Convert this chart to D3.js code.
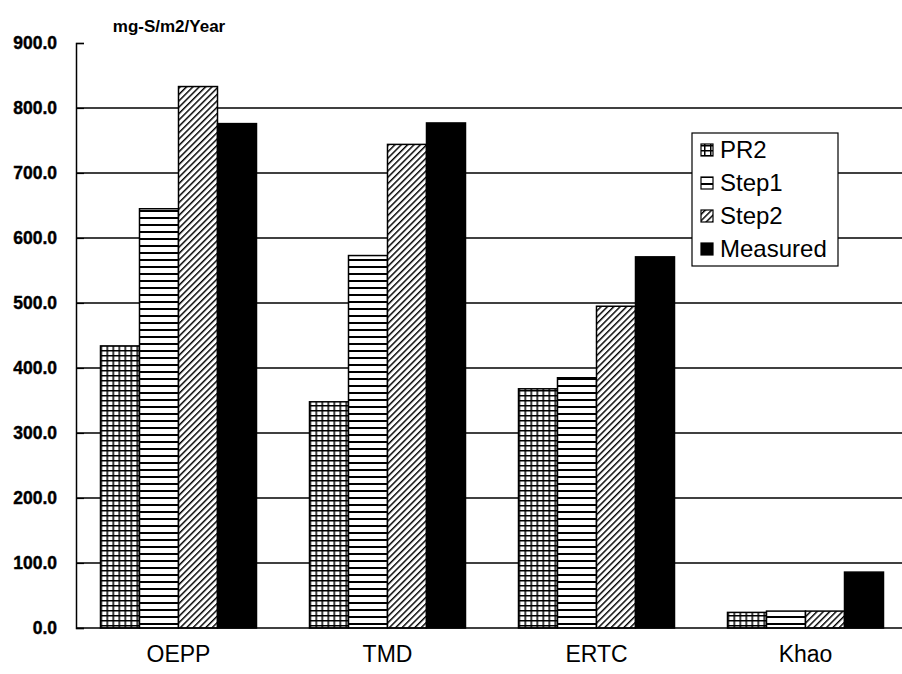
<!DOCTYPE html>
<html>
<head>
<meta charset="utf-8">
<script src="https://cdn.jsdelivr.net/npm/d3@7"></script>
<style>
  html, body { margin: 0; padding: 0; background: #fff; }
  svg { display: block; }
</style>
</head>
<body>
<svg id="chart" width="902" height="674"></svg>
<script>
// Sulfur deposition by site: three model runs against measurement
const categories = ["OEPP", "TMD", "ERTC", "Khao"];
const seriesNames = ["PR2", "Step1", "Step2", "Measured"];
const pr2      = [434, 348, 368, 24];
const step1    = [645, 573, 385, 26];
const step2    = [833, 744, 495, 26];
const measured = [776, 777, 571, 86];
const yTicks = [0, 100, 200, 300, 400, 500, 600, 700, 800, 900];
const unitLabel = "mg-S/m2/Year";

const seriesValues = [pr2, step1, step2, measured];

const svg = d3.select("#chart");
const width = 902, height = 674;
const plotTop = 43, plotBottom = 628, plotLeft = 76;

// Fill patterns for each series
const defs = svg.append("defs");

const pGrid = defs.append("pattern").attr("id", "pat-PR2")
  .attr("patternUnits", "userSpaceOnUse").attr("width", 6).attr("height", 5);
pGrid.append("rect").attr("width", 6).attr("height", 5).attr("fill", "#fff");
pGrid.append("line").attr("x1", 0.75).attr("y1", 0).attr("x2", 0.75).attr("y2", 5)
  .attr("stroke", "#000").attr("stroke-width", 1.5);
pGrid.append("line").attr("x1", 0).attr("y1", 0.75).attr("x2", 6).attr("y2", 0.75)
  .attr("stroke", "#000").attr("stroke-width", 1.5);

const pHoriz = defs.append("pattern").attr("id", "pat-Step1")
  .attr("patternUnits", "userSpaceOnUse").attr("width", 8).attr("height", 7);
pHoriz.append("rect").attr("width", 8).attr("height", 7).attr("fill", "#fff");
pHoriz.append("line").attr("x1", 0).attr("y1", 1).attr("x2", 8).attr("y2", 1)
  .attr("stroke", "#000").attr("stroke-width", 2);

const pDiag = defs.append("pattern").attr("id", "pat-Step2")
  .attr("patternUnits", "userSpaceOnUse").attr("width", 4.5).attr("height", 4.5)
  .attr("patternTransform", "rotate(45)");
pDiag.append("rect").attr("width", 4.5).attr("height", 4.5).attr("fill", "#fff");
pDiag.append("line").attr("x1", 0.7).attr("y1", 0).attr("x2", 0.7).attr("y2", 4.5)
  .attr("stroke", "#000").attr("stroke-width", 1.5);

const fillFor = name => name === "Measured" ? "#000" : `url(#pat-${name})`;

// Scales
const y = d3.scaleLinear().domain([0, 900]).range([plotBottom, plotTop]);
const x0 = d3.scaleBand().domain(categories).range([74, 910])
  .paddingInner(0.2536).paddingOuter(0.1268);
const x1 = d3.scaleBand().domain(seriesNames).range([0, x0.bandwidth()]);

// Gridlines
svg.append("g").selectAll("line")
  .data(yTicks.filter(t => t > 0 && t < 900))
  .join("line")
  .attr("x1", plotLeft).attr("x2", width)
  .attr("y1", d => y(d)).attr("y2", d => y(d))
  .attr("stroke", "#000").attr("stroke-width", 1.3);

// Bars
const groups = svg.append("g").selectAll("g")
  .data(categories)
  .join("g")
  .attr("transform", d => `translate(${x0(d)},0)`);

groups.selectAll("rect")
  .data((c, i) => seriesNames.map((s, k) => ({ s, v: seriesValues[k][i] })))
  .join("rect")
  .attr("x", d => x1(d.s))
  .attr("y", d => y(d.v))
  .attr("width", x1.bandwidth())
  .attr("height", d => y(0) - y(d.v))
  .attr("fill", d => fillFor(d.s))
  .attr("stroke", "#000")
  .attr("stroke-width", 1.5);

// Y axis
const yAxis = d3.axisLeft(y).tickValues(yTicks).tickSize(-8)
  .tickFormat(d3.format(".1f")).tickPadding(19);
const gy = svg.append("g").attr("transform", `translate(${plotLeft},0)`).call(yAxis);
gy.select(".domain").attr("stroke", "#000").attr("stroke-width", 1.5);
gy.selectAll(".tick line").attr("stroke", "#000").attr("stroke-width", 1.2);
gy.selectAll(".tick text")
  .attr("font-family", "Arial, 'Liberation Sans', sans-serif")
  .attr("font-weight", "bold").attr("font-size", 17.5).attr("fill", "#000")
  .attr("stroke", "#000").attr("stroke-width", 0.4);

// X axis baseline and category labels
svg.append("line")
  .attr("x1", plotLeft).attr("x2", width)
  .attr("y1", plotBottom).attr("y2", plotBottom)
  .attr("stroke", "#000").attr("stroke-width", 1.5);

svg.append("g").selectAll("text")
  .data(categories)
  .join("text")
  .attr("x", d => x0(d) + x0.bandwidth() / 2)
  .attr("y", 662)
  .attr("text-anchor", "middle")
  .attr("font-family", "Arial, 'Liberation Sans', sans-serif")
  .attr("font-size", 23).attr("fill", "#000")
  .text(d => d);

// Unit label
svg.append("text")
  .attr("x", 169).attr("y", 32)
  .attr("text-anchor", "middle")
  .attr("font-family", "Arial, 'Liberation Sans', sans-serif")
  .attr("font-weight", "bold").attr("font-size", 17).attr("fill", "#000")
  .text(unitLabel);

// Legend
const legend = svg.append("g").attr("transform", "translate(692,133)");
legend.append("rect").attr("width", 146).attr("height", 133)
  .attr("fill", "#fff").attr("stroke", "#000").attr("stroke-width", 1.2);
const items = legend.selectAll("g.item").data(seriesNames).join("g")
  .attr("class", "item")
  .attr("transform", (d, i) => `translate(0,${17 + i * 33})`);
items.append("rect")
  .attr("x", 9).attr("y", -6).attr("width", 12).attr("height", 12)
  .attr("fill", d => fillFor(d)).attr("stroke", "#000").attr("stroke-width", 1.2);
items.append("text")
  .attr("x", 28).attr("y", 8)
  .attr("font-family", "Arial, 'Liberation Sans', sans-serif")
  .attr("font-size", 24).attr("fill", "#000")
  .text(d => d);
</script>
</body>
</html>
